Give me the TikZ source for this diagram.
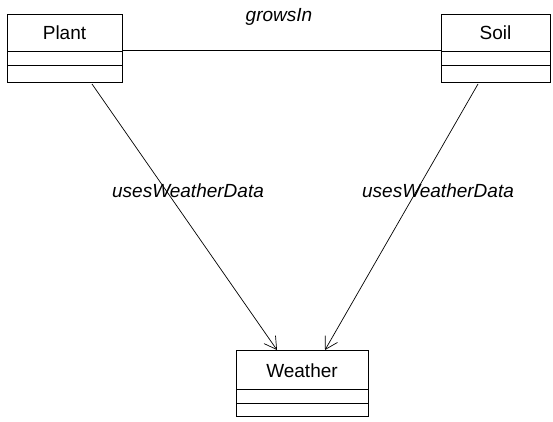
\documentclass[tikz,border=0pt]{standalone}
\usepackage{fontspec}
\setmainfont{Liberation Sans}
\usetikzlibrary{arrows.meta}
\begin{document}
\begin{tikzpicture}[x=1pt,y=-1pt,
  cls/.style={draw,line width=1pt},
  ttl/.style={font=\fontsize{19}{22}\selectfont,inner sep=0pt},
  lbl/.style={font=\fontsize{19}{22}\selectfont\itshape,inner sep=0pt},
  conn/.style={line width=0.7pt},
  dep/.style={line width=0.7pt,-{Straight Barb[length=12pt,width=14pt,line width=0.7pt]}}]
\useasboundingbox (0,0) rectangle (553,421);
% Plant
\draw[cls] (7,14) rectangle (122,82);
\draw[cls] (7,51) -- (122,51);
\draw[cls] (7,65) -- (122,65);
\node[ttl] (plantt) at (64.5,33) {Plant};
\coordinate (plantR) at (122,50);
\coordinate (plantB) at (92,84);
% Soil
\draw[cls] (441,14) rectangle (550,82);
\draw[cls] (441,51) -- (550,51);
\draw[cls] (441,65) -- (550,65);
\node[ttl] (soilt) at (495.5,33) {Soil};
\coordinate (soilL) at (441,50);
\coordinate (soilB) at (478,84);
% Weather
\draw[cls] (236,350) rectangle (368,416);
\draw[cls] (236,389) -- (368,389);
\draw[cls] (236,403) -- (368,403);
\node[ttl] (weathert) at (302,371) {Weather};
\coordinate (wA) at (277,350);
\coordinate (wB) at (325,350);
% connectors
\draw[conn] (plantR) -- (soilL);
\node[lbl] (grows) at (279,17) {growsIn};
\draw[dep] (plantB) -- (wA);
\draw[dep] (soilB) -- (wB);
\node[lbl] (u1) at (188,191) {usesWeatherData};
\node[lbl] (u2) at (438,191) {usesWeatherData};
\end{tikzpicture}
\end{document}
